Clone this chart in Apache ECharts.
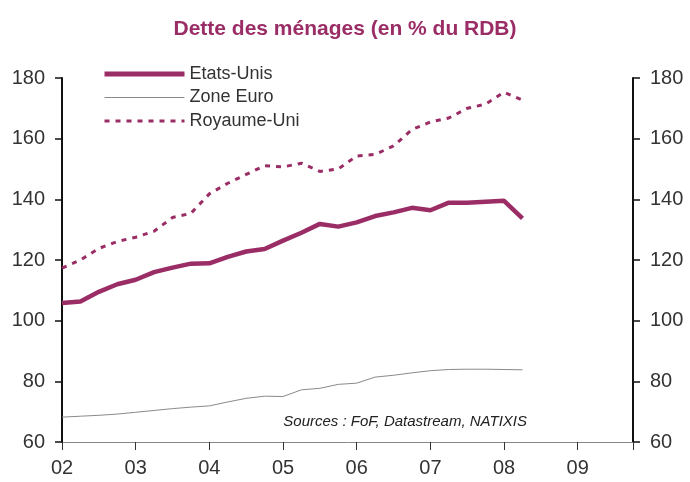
<!DOCTYPE html>
<html>
<head>
<meta charset="utf-8">
<script src="https://cdn.jsdelivr.net/npm/echarts@6/dist/echarts.min.js"></script>
<style>
  html, body { margin: 0; padding: 0; background: #fff; }
  #chart { width: 690px; height: 482px; }
</style>
</head>
<body>
<div id="chart"></div>
<script>
// trimestres (annee decimale)
var quarters = [2002, 2002.25, 2002.5, 2002.75, 2003, 2003.25, 2003.5, 2003.75,
                2004, 2004.25, 2004.5, 2004.75, 2005, 2005.25, 2005.5, 2005.75,
                2006, 2006.25, 2006.5, 2006.75, 2007, 2007.25, 2007.5, 2007.75,
                2008, 2008.25];
var etatsUnis = [105.8, 106.3, 109.5, 112, 113.5, 116, 117.5, 118.8,
                 118.9, 121, 122.8, 123.6, 126.4, 129, 131.9, 131,
                 132.4, 134.5, 135.7, 137.2, 136.4, 138.9, 138.9, 139.2,
                 139.5, 133.7];
var zoneEuro = [68.2, 68.5, 68.8, 69.2, 69.8, 70.4, 71, 71.5,
                71.9, 73.2, 74.4, 75.1, 75, 77.2, 77.7, 79,
                79.4, 81.4, 82, 82.8, 83.5, 83.9, 84, 84,
                83.9, 83.8];
var royaumeUni = [117.3, 120, 123.8, 126.1, 127.5, 129.5, 134, 135.4,
                  141.8, 145.3, 148.2, 151.1, 150.7, 151.9, 149.2, 150,
                  154.3, 154.8, 157.6, 163, 165.5, 166.8, 170, 171.4,
                  175.3, 172.7];

function pairs(xs, ys) {
    var out = [];
    for (var i = 0; i < xs.length; i++) out.push([xs[i], ys[i]]);
    return out;
}

var magenta = '#9b2d66';
var gris = '#8a8a8a';
var fontFam = '"Liberation Sans", Arial, sans-serif';

var yAxisCommon = {
    type: 'value',
    min: 60,
    max: 180,
    interval: 20,
    axisLine: { show: true, lineStyle: { color: '#111', width: 2 } },
    axisTick: { show: true, inside: false, length: 7, lineStyle: { color: '#111', width: 1.5 } },
    axisLabel: { margin: 17, color: '#333', fontSize: 20, fontFamily: fontFam },
    splitLine: { show: false }
};

var myChart = echarts.init(document.getElementById('chart'));
var option = {
    backgroundColor: '#fff',
    animation: false,
    title: {
        text: 'Dette des ménages (en % du RDB)',
        left: 'center',
        top: 14,
        textStyle: { color: magenta, fontSize: 21, fontWeight: 'bold', fontFamily: fontFam }
    },
    legend: {
        orient: 'vertical',
        left: 97,
        top: 60,
        itemWidth: 80,
        itemHeight: 14,
        itemGap: 5.5,
        textStyle: { fontSize: 18, color: '#333', fontFamily: fontFam },
        data: [
            { name: 'Etats-Unis', itemStyle: { opacity: 0 }, lineStyle: { width: 5, color: magenta } },
            { name: 'Zone Euro', itemStyle: { opacity: 0 }, lineStyle: { width: 1, color: gris } },
            { name: 'Royaume-Uni', itemStyle: { opacity: 0 }, lineStyle: { width: 3, color: magenta, type: [5, 6] } }
        ]
    },
    graphic: [{
        type: 'text',
        right: 163,
        top: 414,
        style: {
            text: 'Sources : FoF, Datastream, NATIXIS',
            font: 'italic 15px "Liberation Sans", Arial, sans-serif',
            fill: '#222'
        }
    }],
    grid: { left: 62, right: 57, top: 78, bottom: 40 },
    xAxis: {
        type: 'value',
        min: 2002,
        max: 2009.75,
        interval: 1,
        axisLine: { show: true, lineStyle: { color: '#888', width: 1 } },
        axisTick: { show: true, inside: false, length: 8, lineStyle: { color: '#333' } },
        axisLabel: {
            margin: 16,
            color: '#333',
            fontSize: 20,
            fontFamily: fontFam,
            formatter: function (v) {
                return Math.round(v) === v ? String(v).slice(2) : '';
            }
        },
        splitLine: { show: false }
    },
    yAxis: [
        Object.assign({ position: 'left' }, yAxisCommon),
        Object.assign({ position: 'right' }, yAxisCommon)
    ],
    series: [
        {
            name: 'Etats-Unis',
            type: 'line',
            symbol: 'none',
            data: pairs(quarters, etatsUnis),
            lineStyle: { color: magenta, width: 4.5 },
            itemStyle: { color: magenta },
            z: 3
        },
        {
            name: 'Zone Euro',
            type: 'line',
            symbol: 'none',
            data: pairs(quarters, zoneEuro),
            lineStyle: { color: gris, width: 1 },
            itemStyle: { color: gris }
        },
        {
            name: 'Royaume-Uni',
            type: 'line',
            symbol: 'none',
            data: pairs(quarters, royaumeUni),
            lineStyle: { color: magenta, width: 3, type: [5, 6] },
            itemStyle: { color: magenta }
        }
    ]
};
myChart.setOption(option);
</script>
</body>
</html>
